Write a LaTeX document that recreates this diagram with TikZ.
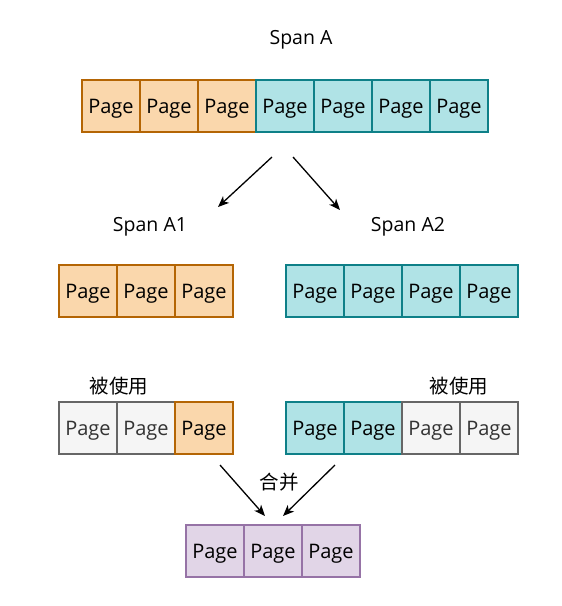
\documentclass[tikz,border=0pt]{standalone}
\usepackage{fontspec}
\setmainfont{Open Sans}
\newfontfamily\cjk{Noto Sans CJK SC}
\usetikzlibrary{arrows.meta}
\definecolor{orfill}{HTML}{FAD7AC}\definecolor{ordraw}{HTML}{B46504}
\definecolor{tlfill}{HTML}{B0E3E6}\definecolor{tldraw}{HTML}{0E8088}
\definecolor{gyfill}{HTML}{F5F5F5}\definecolor{gydraw}{HTML}{666666}\definecolor{gytext}{HTML}{333333}
\definecolor{pufill}{HTML}{E1D5E7}\definecolor{pudraw}{HTML}{9673A6}
\tikzset{
  page/.style={draw,line width=1.1pt,minimum width=58pt,minimum height=52pt,inner sep=0pt,
    text height=18pt,text depth=3.5pt,font=\fontsize{20}{24}\selectfont},
  or/.style={page,fill=orfill,draw=ordraw},
  tl/.style={page,fill=tlfill,draw=tldraw},
  gy/.style={page,fill=gyfill,draw=gydraw,text=gytext},
  pu/.style={page,fill=pufill,draw=pudraw},
  lbl/.style={yshift=-2.5pt,font=\fontsize{19.5}{23}\selectfont},
  arr/.style={-{Stealth[length=11pt,width=9pt,inset=3pt]},line width=1.3pt}
}
\begin{document}
\begin{tikzpicture}[x=1pt,y=-1pt]
  \useasboundingbox (0,0) rectangle (562,606);
  % span A
  \node[lbl] (spanA) at (301,37) {Span A};
  \foreach \s [count=\i] in {or,or,or,tl,tl,tl,tl}
    \node[\s] (a\i) at ({53+58*\i},106) {Page};
  % split
  \node[lbl] (spanA1) at (150,224) {Span A1};
  \node[lbl] (spanA2) at (408,224) {Span A2};
  \foreach \i in {1,2,3}
    \node[or] (b\i) at ({30+58*\i},291) {Page};
  \foreach \i in {1,...,4}
    \node[tl] (c\i) at ({257+58*\i},291) {Page};
  \coordinate (s1) at (272,157); \coordinate (e1) at (218,207);
  \coordinate (s2) at (293,157); \coordinate (e2) at (340,210);
  \draw[arr] (s1) -- (e1);
  \draw[arr] (s2) -- (e2);
  % used
  \node[lbl] (u1) at (119,384) {\cjk 被使用};
  \node[lbl] (u2) at (459,384) {\cjk 被使用};
  \foreach \s [count=\i] in {gy,gy,or}
    \node[\s] (d\i) at ({30+58*\i},428) {Page};
  \foreach \s [count=\i] in {tl,tl,gy,gy}
    \node[\s] (f\i) at ({257+58*\i},428) {Page};
  % merge
  \node[lbl] (merge) at (279,480) {\cjk 合并};
  \foreach \i in {1,2,3}
    \node[pu] (g\i) at ({157+58*\i},551) {Page};
  \coordinate (s3) at (220,465); \coordinate (e3) at (265,516);
  \coordinate (s4) at (335,465); \coordinate (e4) at (283,516);
  \draw[arr] (s3) -- (e3);
  \draw[arr] (s4) -- (e4);
\end{tikzpicture}
\end{document}
